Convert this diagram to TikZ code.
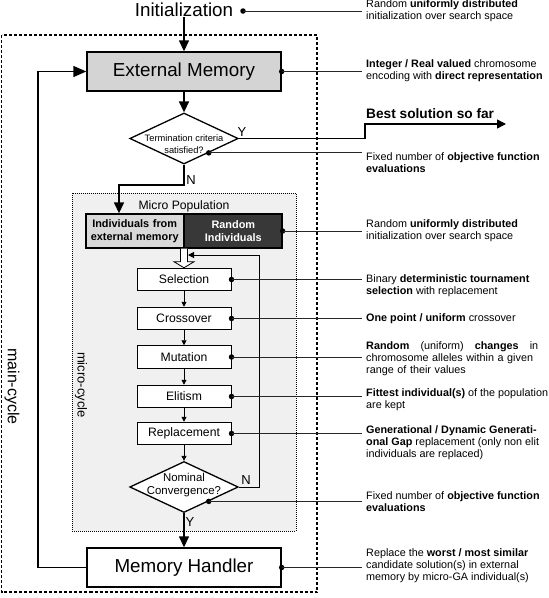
\documentclass[tikz,border=0pt]{standalone}
\usepackage{fontspec}
\setmainfont{Liberation Sans}
\usetikzlibrary{shapes,shapes.geometric,shapes.multipart,calc,arrows.meta}
\newcommand{\fsz}[2]{\fontsize{#1}{#2}\selectfont}
\begin{document}
\begin{tikzpicture}[x=1pt,y=-1pt]
				\tikzstyle{bigbox}=[rectangle, draw, line width=1.4pt, minimum width=194pt, minimum height=39pt, inner sep=0pt, font=\fsz{18.8}{22}]
				\tikzstyle{stepbox}=[rectangle, draw, line width=1pt, fill=white, minimum width=94pt, minimum height=22.5pt, inner sep=0pt, font=\fsz{12.2}{14}]
				\tikzstyle{decision}=[diamond, draw, line width=1.3pt, fill=white, minimum width=108.5pt, minimum height=51pt, inner sep=0pt]
				\tikzstyle{dtext}=[align=center, inner sep=0pt]
				\tikzstyle{note}=[anchor=west, align=left, inner sep=0pt, font=\fsz{10.8}{12.2}]
				\tikzstyle{notedot}=[circle, fill, inner sep=0pt, minimum size=5.5pt]
				\tikzstyle{noteline}=[line width=0.8pt, black!85, shorten >=4pt]
				\tikzstyle{flow}=[line width=1.4pt, -{Triangle[length=11pt,width=10pt]}]
				\tikzstyle{stepflow}=[line width=0.9pt, -{Triangle[length=5pt,width=5pt]}]
				\tikzstyle{yn}=[inner sep=0pt, font=\fsz{13}{15}]
				\useasboundingbox (0,0) rectangle (549,598);
				% main-cycle and micro-cycle frames
				\draw[line width=1.6pt, dash pattern=on 3pt off 2pt] (1.5,35) rectangle (317,592);
				\draw[line width=0.8pt, dash pattern=on 1pt off 1pt, fill=black!6] (72,193) rectangle (296,531);
				\node[rotate=-90, font=\fsz{16}{18}, inner sep=0pt] (mainlbl) at (12,386.5) {main-cycle};
				\node[rotate=-90, font=\fsz{13}{15}, inner sep=0pt] (microlbl) at (81,385) {micro-cycle};
				% flow
				\node[font=\fsz{18.8}{22}, inner sep=0pt] (init) at (184,10) {Initialization};
				\node[bigbox, fill=black!17] (em) at (184,71.5) {External Memory};
				\node[decision] (term) at (184,138.5) {};
				\node[dtext, font=\fsz{9.3}{12}] (termtxt) at (184,144) {Termination criteria\\satisfied?};
				\node[font=\fsz{12.2}{14}, inner sep=0pt] (micro) at (184,206) {Micro Population};
				\node[rectangle split, rectangle split parts=2, rectangle split horizontal, draw, line width=1.6pt,
					rectangle split part fill={black!15,black!78}, text width=88pt, align=center,
					inner xsep=4.5pt, inner ysep=5.3pt, font=\bfseries\fsz{10.9}{13}] (split) at (184,231)
					{Individuals from\\external memory \nodepart{two}\color{white}Random\\Individuals};
				\foreach \name/\txt/\y in {sel/Selection/279.5, cross/Crossover/318.5, mut/Mutation/357, elit/Elitism/396.5, repl/Replacement/433.5}
					\node[stepbox] (\name) at (184,\y) {\txt};
				\node[decision] (nom) at (184,487) {};
				\node[dtext, font=\fsz{11.4}{13}] (nomtxt) at (184,485) {Nominal\\Convergence?};
				\node[bigbox] (mh) at (184,567.5) {Memory Handler};

				\draw[flow] (init) -- (em);
				\draw[flow] (em) -- (term);
				\coordinate (bestbend) at (365,124);
				\coordinate (best) at (506,124);
				\draw[line width=1.4pt, -{Triangle[length=9pt,width=9pt]}] (term.east) -| (bestbend) -- (best);
				\node[font=\bfseries\fsz{13.7}{16}, anchor=west, inner sep=0pt] (bestlbl) at (366,114) {Best solution so far};
				\node[yn] (ylbl1) at (242,132) {Y};
				\coordinate (nturn) at (119,185);
				\draw[flow] (term.south) |- (nturn) -- (nturn |- split.north);
				\node[yn] (nlbl1) at (191,180) {N};
				% hollow arrow into the micro-cycle
				\draw[line width=0.8pt, fill=white] ($(split.south)+(-3.5,0)$) -- ($(sel.north)+(-3.5,-6)$) -- ($(sel.north)+(-10,-6)$) -- (sel.north)
					-- ($(sel.north)+(10,-6)$) -- ($(sel.north)+(3.5,-6)$) -- ($(split.south)+(3.5,0)$);
				\foreach \a/\b in {sel/cross, cross/mut, mut/elit, elit/repl, repl/nom}
					\draw[stepflow] (\a) -- (\b);
				\coordinate (loopcorner) at (259,255);
				\coordinate (loopend) at (188,255);
				\draw[line width=1pt, -{Triangle[length=6pt,width=6pt]}] (nom.east) -| (loopcorner) -- (loopend);
				\node[yn] (nlbl2) at (246,480) {N};
				\draw[flow] (nom) -- (mh);
				\node[yn] (ylbl2) at (190,522) {Y};
				\coordinate (maincorner) at (38,567.5);
				\draw[line width=1.4pt, -{Triangle[length=13pt,width=11pt]}] (mh.west) -- (maincorner) |- (em.west);

				% notes
				\node[notedot] (d1) at (243,11) {};
				\node[note] (n1) at (366,10.5) {Random \textbf{uniformly distributed}\\initialization over search space};
				\draw[noteline] (d1.center) -- (d1.center -| n1.west);
				\node[notedot] (d2) at (em.east) {};
				\node[note] (n2) at (366,71) {\textbf{Integer / Real valued} chromosome\\encoding with \textbf{direct representation}};
				\draw[noteline] (d2.center) -- (d2.center -| n2.west);
				\node[notedot] (d3) at ($(term.east)!0.55!(term.south)$) {};
				\node[note] (n3) at (366,162.5) {Fixed number of \textbf{objective function}\\\textbf{evaluations}};
				\draw[noteline] (d3.center) -- (d3.center -| n3.west);
				\node[notedot] (d4) at (split.east) {};
				\node[note] (n4) at (366,230.5) {Random \textbf{uniformly distributed}\\initialization over search space};
				\draw[noteline] (d4.center) -- (d4.center -| n4.west);
				\node[notedot] (d5) at (sel.east) {};
				\node[note] (n5) at (366,285.5) {Binary \textbf{deterministic tournament}\\\textbf{selection} with replacement};
				\draw[noteline] (d5.center) -- (d5.center -| n5.west);
				\node[notedot] (d6) at (cross.east) {};
				\node[note] (n6) at (366,318.5) {\textbf{One point / uniform} crossover};
				\draw[noteline] (d6.center) -- (d6.center -| n6.west);
				\node[notedot] (d7) at (mut.east) {};
				\node[note, text width=172pt] (n7) at (366,359) {\textbf{Random}\hfill(uniform)\hfill\textbf{changes}\hfill in\\chromosome alleles within a given\\range of their values};
				\draw[noteline] (d7.center) -- (d7.center -| n7.west);
				\node[notedot] (d8) at (elit.east) {};
				\node[note] (n8) at (366,400) {\textbf{Fittest individual(s)} of the population\\are kept};
				\draw[noteline] (d8.center) -- (d8.center -| n8.west);
				\node[notedot] (d9) at (repl.east) {};
				\node[note] (n9) at (366,443) {\textbf{Generational / Dynamic Generati-}\\\textbf{onal Gap} replacement (only non elit\\individuals are replaced)};
				\draw[noteline] (d9.center) -- (d9.center -| n9.west);
				\node[notedot] (d10) at ($(nom.east)!0.55!(nom.south)$) {};
				\node[note] (n10) at (366,502) {Fixed number of \textbf{objective function}\\\textbf{evaluations}};
				\draw[noteline] (d10.center) -- (d10.center -| n10.west);
				\node[notedot] (d11) at (mh.east) {};
				\node[note] (n11) at (366,566) {Replace the \textbf{worst / most similar}\\candidate solution(s) in external\\memory by micro-GA individual(s)};
				\draw[noteline] (d11.center) -- (d11.center -| n11.west);
			\end{tikzpicture}
\end{document}
